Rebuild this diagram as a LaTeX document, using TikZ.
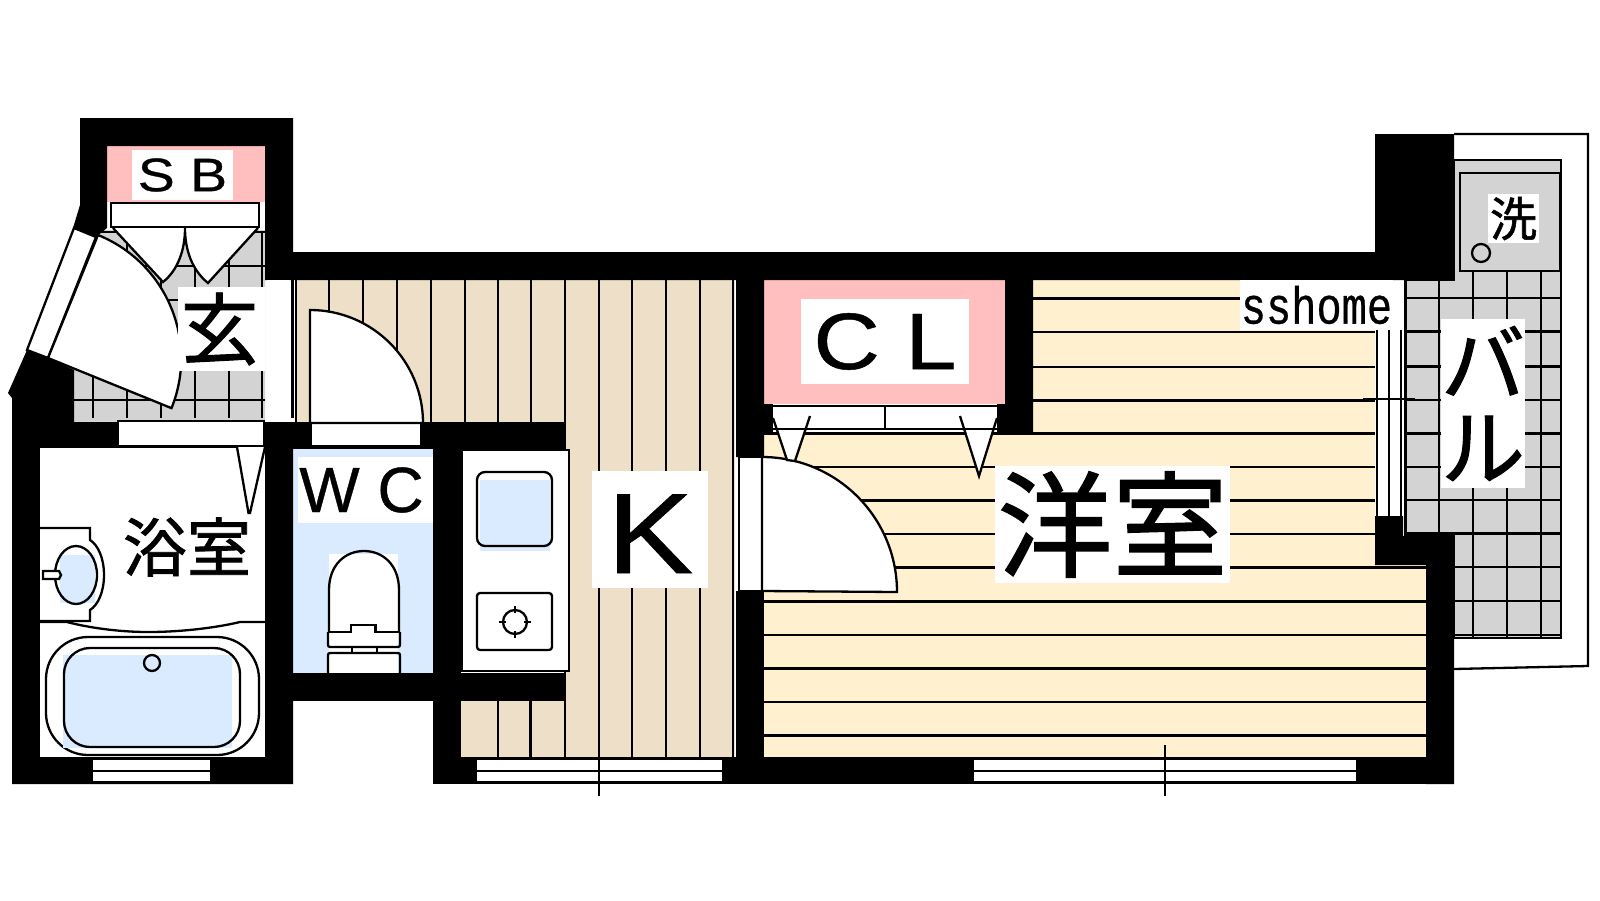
\documentclass[tikz,border=0pt]{standalone}
\usepackage{fontspec}
\setmainfont[FakeBold=0.6]{Liberation Sans}
\setmonofont[FakeBold=0.6]{Liberation Mono}
\newfontfamily\cjk[FakeBold=1.2]{Noto Sans CJK JP}
\newcommand{\fsz}[1]{\fontsize{#1}{#1}\selectfont}
\definecolor{kfloor}{HTML}{EEDFC8}
\definecolor{yfloor}{HTML}{FFF0D0}
\definecolor{closet}{HTML}{FFBFBF}
\definecolor{aqua}{HTML}{DBEBFF}
\definecolor{tile}{HTML}{D3D3D3}
\begin{document}
\begin{tikzpicture}[
x=1pt,y=-1pt,
every path/.style={line width=2.3pt},
wall/.style={fill=black,draw=none},
fixture/.style={fill=white,draw=black},
roomlabel/.style={fill=white,inner sep=0pt,align=center,text=black}
]
\useasboundingbox (0,0) rectangle (1600,900);

% balcony
\draw [fixture] (1454,134) -- (1588,134) -- (1588,666) -- (1454,669);
\draw [fill=tile] (1405,280) -- (1454,280) -- (1454,160) -- (1561,160) -- (1561,638) -- (1454,638) -- (1454,536) -- (1405,536) -- cycle;
\foreach \y in {298,331.5,366.5,400,433.6,467,500,533.6} \draw (1405,\y) -- (1561,\y);
\foreach \y in {567,601,635} \draw (1454,\y) -- (1561,\y);
\foreach \x in {1439} \draw (\x,280) -- (\x,536);
\foreach \x in {1473,1507,1541} \draw (\x,271) -- (\x,638);
\draw (1406,280) -- (1406,536);
\draw [fill=tile] (1460,173) rectangle (1560,271);
\draw (1481,253) circle (9);

% entrance floor
\fill [tile] (96,230) -- (265,230) -- (265,422) -- (74,422) -- (74,370) -- (48,358) -- cycle;
\foreach \x in {93,127,161,195,229,262} \draw (\x,232) -- (\x,418);
\foreach \y in {232,266,300,333,367,400} \draw (74,\y) -- (265,\y);

% closet SB
\fill [closet] (107,146) rectangle (265,202);

% kitchen floor
\fill [kfloor] (296,280) rectangle (565,422);
\fill [kfloor] (565,280) rectangle (735,757);
\fill [kfloor] (461,701) rectangle (565,757);
\foreach \x in {329,363,397,431,465,498,531} \draw (\x,280) -- (\x,422);
\foreach \x in {565,599,632,666,700,733} \draw (\x,280) -- (\x,757);
\foreach \x in {498,530.5} \draw (\x,701) -- (\x,757);

% room floor
\fill [yfloor] (1033,280) -- (1375,280) -- (1375,565) -- (1426,565) -- (1426,757) -- (764,757) -- (764,433) -- (1033,433) -- cycle;
\foreach \y in {298.5,332,367,400.5} \draw (1033,\y) -- (1375,\y);
\draw (764,433.6) -- (1375,433.6);
\foreach \y in {467,500.5,534} \draw (764,\y) -- (1375,\y);
\foreach \y in {567.5,601.5,635,668.5,702,735.5} \draw (764,\y) -- (1426,\y);

% closet CL
\fill [closet] (764,280) rectangle (1005,404);

% WC floor
\fill [aqua] (293,448) rectangle (433,673);

% walls
\fill [wall] (80,118) -- (293,118) -- (293,252) -- (1375,252) -- (1375,134) -- (1454,134) -- (1454,280) -- (1033,280) -- (1033,432) -- (1005,432) -- (1005,280) -- (764,280) -- (764,457) -- (736,457) -- (736,280) -- (265,280) -- (265,146) -- (107,146) -- (107,228) -- (96,237) -- (73,228) -- (80,205) -- cycle;
\fill [wall] (764,404) rectangle (773,432);
\fill [wall] (997,404) rectangle (1005,432);
\fill [wall] (27,350) -- (48,358) -- (74,370) -- (74,422) -- (293,422) -- (293,784) -- (12,784) -- (12,398) -- (8,393) -- cycle;
\fill [wall] (293,422) rectangle (565,449);
\fill [wall] (433,449) rectangle (461,784);
\fill [wall] (293,673) rectangle (565,701);
\fill [wall] (433,757) rectangle (1454,784);
\fill [wall] (736,591) rectangle (764,757);
\fill [wall] (1375,516) -- (1403,516) -- (1403,536) -- (1454,536) -- (1454,784) -- (1426,784) -- (1426,565) -- (1375,565) -- cycle;

% bath room
\fill [white] (40,448) rectangle (265,757);
\draw [fill=white] (237,447) -- (248.5,513) -- (250,513) -- (265,447);
\draw [fixture] (40,528) -- (90,528) -- (90,540) .. controls (98,545) and (104,558) .. (104,575) .. controls (104,592) and (98,605) .. (90,610) -- (90,621) -- (40,621);
\fill [aqua] (60,555) rectangle (95,603);
\draw (76,575) ellipse (21 and 29);
\draw [fixture] (43,571) -- (59,571) -- (61,575) -- (59,579) -- (43,579) -- cycle;
\draw (40,622) -- (67,622) .. controls (90,628) and (120,632) .. (148,632) .. controls (180,632) and (215,628) .. (240,622) -- (265,622);
\draw [rounded corners=42pt] (46,637) rectangle (259,755);
\fill [aqua] (63,655) rectangle (232,748);
\draw [rounded corners=26pt] (64,648) rectangle (240,747);
\draw (152,663) ellipse (8 and 8);
\fill [white] (92.5,759) rectangle (210,782);
\draw (92.5,759) -- (210,759) (92.5,771) -- (210,771) (92.5,782) -- (210,782);

% toilet
\fill [white] (329,554) rectangle (398,673);
\draw (329,632) -- (329,590) .. controls (329,565) and (345,551) .. (364,551) .. controls (383,551) and (399,565) .. (399,590) -- (399,632);
\draw (328,632) -- (351,632) -- (351,625) -- (375.5,625) -- (375.5,632) -- (400,632);
\draw [rounded corners=2pt] (328,632) -- (328,647) -- (400,647) -- (400,632);
\draw (352,647) -- (352,653) (377,647) -- (377,653);
\draw [rounded corners=2pt] (328,673) -- (328,653) -- (400,653) -- (400,673);

% kitchen counter
\draw [fixture] (462,450) rectangle (569,671);
\fill [aqua] (480,480) rectangle (550,551);
\draw [rounded corners=8pt] (477,472) rectangle (552,546);
\draw [rounded corners=3pt] (477,593) rectangle (552,650);
\draw (515,622) circle (12);
\foreach \a in {0,90,180,270} \draw (515,622) ++(\a:9) -- ++(\a:7);
\fill [white] (477,759) rectangle (722,782);
\draw (477,759) -- (722,759) (477,771) -- (722,771) (477,782) -- (722,782);
\draw (599,745) -- (599,796);

% doors
\fill [white] (267,280) rectangle (290,418);
\draw (292.5,280) -- (292.5,418) (296,280) -- (296,422);
\draw [fixture] (118,421) rectangle (264,446);
\draw [fixture] (311,423) rectangle (421,446);
\draw [fixture] (310,423) -- (310,310) arc[start angle=90,end angle=0,radius=113pt] -- cycle;
\draw [fixture] (739,457) rectangle (762,591);
\draw [fixture] (762,591) -- (762,457) arc[start angle=90,end angle=0,radius=135pt] -- cycle;
\fill [white] (974,759) rectangle (1356,782);
\draw (974,759) -- (1356,759) (974,771) -- (1356,771) (974,782) -- (1356,782);
\draw (1165,745) -- (1165,796);

% SB doors
\draw [fixture] (111,203) rectangle (259,227);
\draw [fixture] (113,228) -- (163,282) .. controls (178,270) and (185,250) .. (185,228) .. controls (185,250) and (192,270) .. (208,283) -- (258,228);

% entrance door
\draw [fixture] (74,228) -- (96,237) -- (48,358) -- (27,350) -- cycle;
\draw [fixture] (48,358) -- (98,235) arc[start angle=68,end angle=-22,radius=133pt] -- cycle;

% CL doors
\draw [fill=white] (773,418) -- (787,460) -- (795,461) -- (810,416);
\draw [fill=white] (960,416) -- (979,476) -- (997,418);
\draw (773,429) -- (997,429);
\draw (773,406) -- (997,406) (885,406) -- (885,429);

% balcony window
\fill [white] (1377,330) rectangle (1403,516);
\foreach \x in {1377,1389,1401} \draw (\x,330) -- (\x,516);
\draw (1405,280) -- (1405,536);
\draw (1363,399) -- (1415,399);

% labels
\node [roomlabel,minimum width=101pt,minimum height=50pt,font=\fsz{47}] (sblabel) at (182.5,175) {\scalebox{1.18}[1]{S B}};
\node [roomlabel,minimum width=87pt,minimum height=84pt,font=\cjk\fsz{78}] (entrylabel) at (221.5,329) {\hspace*{-4pt}玄};
\node [font=\cjk\fsz{64}] (bathlabel) at (187,547) {浴室};
\node [roomlabel,minimum width=135pt,minimum height=66pt] (wclabel) at (365.5,490) {\fsz{64}\hspace*{-8pt}W C};
\node [roomlabel,minimum width=116pt,text height=102pt,text depth=15pt,font=\fsz{114}] (klabel) at (650,529.5) {\scalebox{1.13}[1]{K}};
\node [roomlabel,minimum width=168pt,minimum height=85pt,font=\fsz{80}] (cllabel) at (885,341.5) {\scalebox{1.15}[1]{C L}};
\node [roomlabel,minimum width=235pt,minimum height=117pt,font=\cjk\fsz{115}] (roomlabel) at (1112.5,524.5) {洋室};
\node [roomlabel,minimum width=153pt,minimum height=50pt,font=\ttfamily\fsz{42}] (homelabel) at (1316.5,305) {\scalebox{1}[1.24]{sshome}};
\node [roomlabel,minimum width=84pt,minimum height=169pt,font=\cjk\fsz{84}] (ballabel) at (1483,403.5) {バ\\ル};
\node [roomlabel,minimum width=51pt,minimum height=49pt,font=\cjk\fsz{47}] (washlabel) at (1513.5,218.5) {洗};
\end{tikzpicture}
\end{document}
